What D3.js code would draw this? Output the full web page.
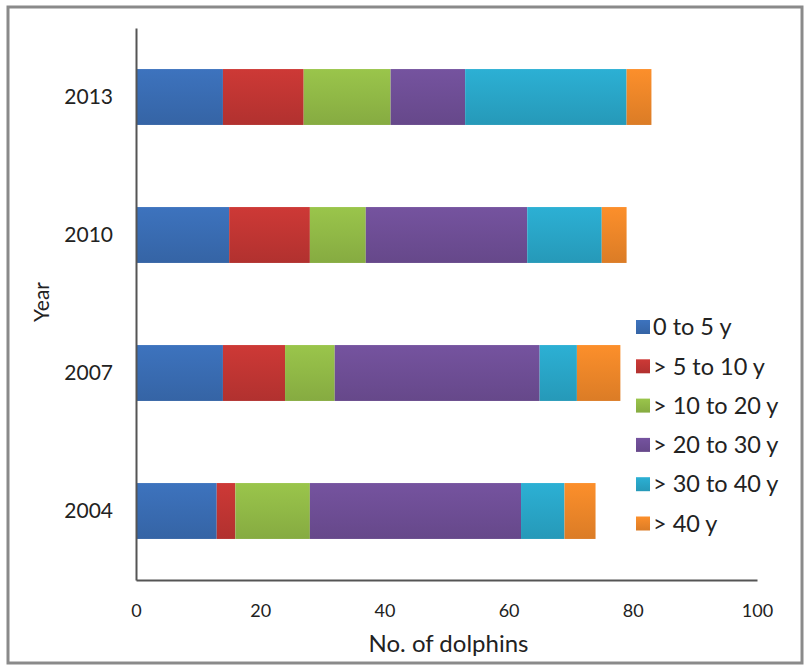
<!DOCTYPE html>
<html>
<head>
<meta charset="utf-8">
<script src="https://cdn.jsdelivr.net/npm/d3@7"></script>
<style>
  html, body { margin: 0; padding: 0; background: #fff; }
  svg { display: block; }
  text { font-family: Lato, "Open Sans", sans-serif; fill: #222; }
</style>
</head>
<body>
<svg id="chart" width="810" height="671"></svg>
<script>
// Age-class composition of dolphins by survey year
const years = ["2004", "2007", "2010", "2013"];
const ageClasses = ["0 to 5 y", "> 5 to 10 y", "> 10 to 20 y", "> 20 to 30 y", "> 30 to 40 y", "> 40 y"];
const age0to5   = [13, 14, 15, 14];
const age5to10  = [3, 10, 13, 13];
const age10to20 = [12, 8, 9, 14];
const age20to30 = [34, 33, 26, 12];
const age30to40 = [7, 6, 12, 26];
const age40plus = [5, 7, 4, 4];
const xTicks = [0, 20, 40, 60, 80, 100];
const colors = ["#3a6db4", "#c23633", "#92bb47", "#6f4f97", "#2aa7c9", "#ef8829"];

const seriesValues = [age0to5, age5to10, age10to20, age20to30, age30to40, age40plus];
const rows = years.map((y, i) => {
  const r = { year: y };
  ageClasses.forEach((a, k) => { r[a] = seriesValues[k][i]; });
  return r;
});

const svg = d3.select("#chart");
const margin = { left: 136, right: 53, top: 28, bottom: 91 };
const W = 810, H = 671;

// outer frame
svg.append("rect")
  .attr("x", 8).attr("y", 7).attr("width", 794).attr("height", 656)
  .attr("fill", "#fff").attr("stroke", "#8a8a8a").attr("stroke-width", 3);

const x = d3.scaleLinear().domain([0, 100]).range([margin.left, W - margin.right]);
const y = d3.scaleBand().domain(years.slice().reverse())
  .range([margin.top, H - margin.bottom]).paddingInner(0.595).paddingOuter(0.2975);

const stack = d3.stack().keys(ageClasses);
const layers = stack(rows);

// subtle vertical shading on each bar segment
const defs = svg.append("defs");
colors.forEach((c, i) => {
  const g = defs.append("linearGradient").attr("id", "grad" + i)
    .attr("x1", 0).attr("y1", 0).attr("x2", 0).attr("y2", 1);
  g.append("stop").attr("offset", "0%").attr("stop-color", d3.color(c).brighter(0.15));
  g.append("stop").attr("offset", "100%").attr("stop-color", d3.color(c).darker(0.25));
});

svg.append("g").selectAll("g").data(layers).join("g")
  .attr("fill", (d, i) => `url(#grad${i})`)
  .selectAll("rect").data(d => d).join("rect")
  .attr("x", d => x(d[0]))
  .attr("y", d => y(d.data.year))
  .attr("width", d => x(d[1]) - x(d[0]))
  .attr("height", y.bandwidth());

// axes
const xAxis = d3.axisBottom(x).tickValues(xTicks).tickSize(0).tickPadding(24);
const gx = svg.append("g").attr("transform", `translate(0,${H - margin.bottom})`).call(xAxis);
gx.select(".domain").attr("stroke", "#555").attr("stroke-width", 2);
gx.selectAll("text").attr("font-size", 18).attr("font-family", "Lato, sans-serif").attr("fill", "#222");

const yAxis = d3.axisLeft(y).tickSize(0).tickPadding(23);
const gy = svg.append("g").attr("transform", `translate(${margin.left},0)`).call(yAxis);
gy.select(".domain").attr("stroke", "#555").attr("stroke-width", 2);
gy.selectAll("text").attr("font-size", 21).attr("font-family", "Lato, sans-serif").attr("fill", "#222");

// axis titles
svg.append("text").attr("x", (x(0) + x(100)) / 2 + 2).attr("y", 652)
  .attr("text-anchor", "middle").attr("font-size", 24).text("No. of dolphins");
svg.append("text").attr("transform", "translate(49,302) rotate(-90)")
  .attr("text-anchor", "middle").attr("font-size", 21).text("Year");

// legend
const legend = svg.append("g").attr("transform", "translate(636,327)");
const item = legend.selectAll("g").data(ageClasses).join("g")
  .attr("transform", (d, i) => `translate(0,${i * 39.3})`);
item.append("rect").attr("x", 0).attr("y", -7).attr("width", 14).attr("height", 14)
  .attr("fill", (d, i) => `url(#grad${i})`);
item.append("text").attr("x", 17).attr("y", 0).attr("dy", "0.35em")
  .attr("font-size", 23.5).text(d => d);
</script>
</body>
</html>
